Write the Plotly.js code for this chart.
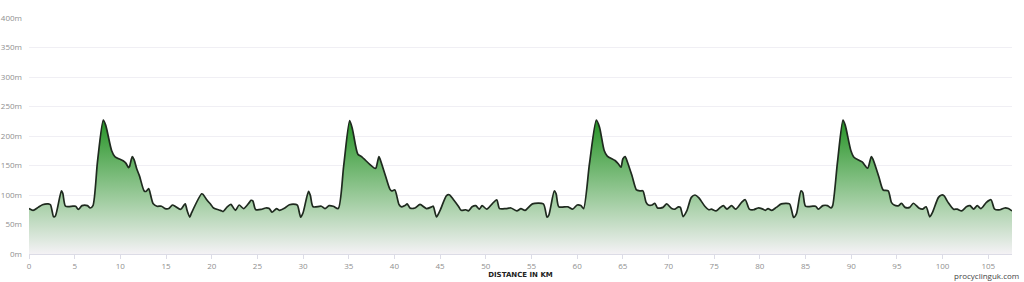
<!DOCTYPE html>
<html>
<head>
<meta charset="utf-8">
<script src="https://cdn.plot.ly/plotly-3.0.1.min.js"></script>
<style>
  html, body { margin: 0; padding: 0; background: #ffffff; }
  #chart { width: 1024px; height: 282px; }
</style>
</head>
<body>
<div id="chart"></div>
<script>
// Distance along the route (km)
const distanceKm = [
  0, 0.44, 1.0, 1.47, 2.1, 2.35, 2.7, 2.9, 3.55, 3.7, 4.0, 4.8, 5.1, 5.4, 5.8, 6.4, 6.7, 7.0,
  7.5, 8.13, 8.4, 9.05, 9.4, 10.3, 10.6, 10.9, 11.0, 11.3, 11.5, 11.8, 12.1, 12.6, 12.8, 13.1,
  13.25, 13.6, 14.0, 14.5, 14.9, 15.3, 15.7, 16.0, 16.55, 16.7, 17.1, 17.3, 17.6, 17.8, 18.9,
  19.05, 19.5, 19.9, 20.2, 20.95, 21.25, 21.7, 22.1, 22.3, 22.6, 23.0, 23.5, 24.1, 24.3, 24.5,
  24.8, 25.4, 25.9, 26.3, 26.6, 27.1,
  27.4, 28.0, 28.5, 29.2, 29.4, 29.74, 30.0, 30.6, 30.8, 31.1, 32.0, 32.4, 32.85, 33.3, 33.85,
  34.45, 35.1, 35.4, 36.0, 36.4, 37.3, 37.9, 38.0, 38.3, 38.4, 39.0, 39.5, 39.7, 40.05, 40.5,
  40.8, 41.15, 41.4, 41.7, 42.25, 42.8, 43.5, 44.1, 44.25, 44.6, 45.0, 45.7, 46.0, 46.45, 47.0,
  47.3, 47.8, 48.1, 48.5, 48.9, 49.3, 49.6, 50.1, 50.7, 51.2, 51.5, 52.2, 52.75, 53.4, 53.85,
  54.3, 55.1, 56.3, 56.7, 56.9, 57.5, 57.7, 58.0, 59.0, 59.5, 60.0, 60.4, 60.7, 61.35, 62.1,
  62.45, 62.96, 63.3, 64.15, 64.5, 64.8, 65.0, 65.25, 65.5, 66.0, 66.5, 66.9, 67.2, 67.55, 67.8,
  68.2, 68.5, 68.8, 69.4, 69.8, 70.35, 70.7, 71.1, 71.3, 71.6, 72.0, 72.5, 72.9, 73.3, 74.0,
  74.4, 74.7, 75.2, 75.6, 76.0, 76.4, 76.9, 77.35, 78.0, 78.4, 78.85, 79.3, 79.8, 80.2, 80.6,
  80.9, 81.3, 81.8, 82.35, 83.25, 83.45, 83.7, 84.0, 84.5, 84.7, 85.0, 85.8, 86.1, 86.4, 86.9,
  87.4, 87.8, 87.97, 88.5, 89.1, 89.35, 89.96, 90.3, 91.2, 91.8, 92.2, 92.4, 93.04, 93.5, 94.05,
  94.4, 94.7, 95.2, 95.5, 95.9, 96.4, 96.8, 97.4, 97.8, 98.2, 98.6, 98.9, 99.55, 99.9, 100.15,
  100.6, 101.2, 101.6, 102.1, 102.6, 103.0, 103.4, 103.8, 104.2, 104.8, 105.3, 105.7, 106.3,
  106.8, 107.2, 107.6
];

// Elevation (m)
const elevationM = [
  77, 74, 79, 83.5, 85, 83.5, 63, 65, 107, 103, 81, 81, 81, 75.5, 82, 82, 78, 82,
  157, 227, 218, 175, 165, 158, 154, 146.5, 148, 165, 160, 144, 132, 107, 106, 111,
  104, 85, 81, 81, 77, 77, 83, 81, 75.5, 77, 85, 74, 62.5, 70, 102,
  101, 91, 84, 78, 74, 72, 80, 84, 80, 74, 83, 77, 87, 91, 90,
  75.5, 75.5, 78, 77, 71, 77,
  74, 78, 83.5, 84, 82, 62.5, 70, 106, 99, 80, 81, 77, 82, 81, 77,
  150, 226, 212, 169, 165, 152, 145, 146.5, 165, 162, 133.5, 110, 107, 108.5, 84,
  80, 82, 85, 78, 78, 84, 77, 80, 81, 63, 74, 99, 100.5, 92.5, 81,
  74, 75, 73, 80, 82, 76, 82, 76, 85, 92, 77, 77, 78, 73, 77,
  74, 85, 85, 62.5, 66, 107, 102, 80, 80, 76, 83, 82, 77, 153, 227,
  215, 175.5, 166, 158.5, 153, 147, 161, 165, 156, 133, 108.5, 107, 107, 87.5, 83,
  83, 86, 78, 79, 85, 77, 76, 80, 79, 63.5, 73, 96, 100, 95.5, 80.5,
  75, 76, 73, 78, 82, 76, 82, 76, 87.5, 92, 76, 75, 78, 77, 74,
  77, 74, 79, 85, 85, 76, 62, 68, 107, 104, 81, 81, 81, 76, 82,
  82, 78, 82, 156, 227, 218, 175.5, 164, 156, 145.5, 165, 160, 130, 108.5, 107,
  87.5, 83, 82, 86, 79, 79, 86, 78, 76, 80, 63, 70.5, 96, 100, 99,
  87.5, 76, 76, 73, 80, 82, 76, 82, 77, 87.5, 92, 76, 75,
  78, 77, 73
];

const yTickValues = [0, 50, 100, 150, 200, 250, 300, 350, 400];
const yTickLabels = ['0m', '50m', '100m', '150m', '200m', '250m', '300m', '350m', '400m'];
const xTickValues = [0, 5, 10, 15, 20, 25, 30, 35, 40, 45, 50, 55, 60, 65, 70, 75, 80, 85, 90, 95, 100, 105];

const trace = {
  type: 'scatter',
  mode: 'lines',
  x: distanceKm,
  y: elevationM,
  line: { color: '#1f2a1f', width: 1.7, shape: 'spline', smoothing: 0.7 },
  fill: 'tozeroy',
  fillgradient: {
    type: 'vertical',
    start: 0,
    stop: 227,
    colorscale: [
      [0, 'rgb(244,242,245)'],
      [0.45, 'rgb(150,200,150)'],
      [1, 'rgb(38,148,38)']
    ]
  },
  hoverinfo: 'x+y'
};

const layout = {
  width: 1024,
  height: 282,
  margin: { l: 29, r: 12, t: 18, b: 28 },
  paper_bgcolor: '#ffffff',
  plot_bgcolor: '#ffffff',
  showlegend: false,
  font: { family: 'Open Sans, sans-serif', color: '#8f8f8f', size: 8 },
  xaxis: {
    range: [0, 107.6],
    tickvals: xTickValues,
    ticktext: xTickValues.map(String),
    ticks: 'outside',
    ticklen: 4,
    tickcolor: '#dcdce6',
    showgrid: false,
    zeroline: false,
    showline: true,
    linecolor: '#dcdce6',
    linewidth: 1,
    tickfont: { size: 8, color: '#8f8f8f' },
    title: {
      text: '<b>DISTANCE IN KM</b>',
      font: { size: 7, color: '#222222', family: 'DejaVu Sans, sans-serif' },
      standoff: 2
    },
    fixedrange: true
  },
  yaxis: {
    range: [0, 400],
    tickvals: yTickValues,
    ticktext: yTickLabels,
    showgrid: true,
    gridcolor: '#f0eff4',
    gridwidth: 1,
    zeroline: false,
    showline: false,
    ticks: '',
    ticklabelstandoff: 6,
    tickfont: { size: 8, color: '#8f8f8f' },
    fixedrange: true
  },
  annotations: [
    {
      text: 'procyclinguk.com',
      xref: 'paper', yref: 'paper',
      x: 1.009, y: -0.09,
      xanchor: 'right', yanchor: 'middle',
      showarrow: false,
      font: { size: 8, color: '#444444', family: 'Open Sans, sans-serif' }
    }
  ]
};

Plotly.newPlot('chart', [trace], layout, { displayModeBar: false, staticPlot: true });
</script>
</body>
</html>
